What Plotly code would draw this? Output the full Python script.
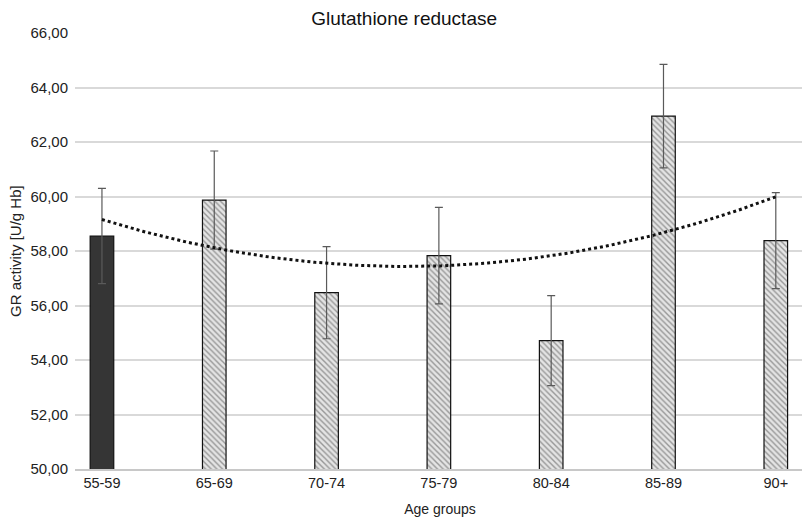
import numpy as np
import plotly.graph_objects as go

categories = ["55-59", "65-69", "70-74", "75-79", "80-84", "85-89", "90+"]
gr_activity = [58.55, 59.87, 56.47, 57.83, 54.71, 62.95, 58.38]
gr_error = [1.75, 1.80, 1.69, 1.77, 1.65, 1.90, 1.76]
y_ticks = [50, 52, 54, 56, 58, 60, 62, 64, 66]

x_pos = list(range(len(categories)))

# quadratic trendline (as in the spreadsheet), fitted to the bar values
coef = np.polyfit(x_pos, gr_activity, 2)
x_fit = np.linspace(x_pos[0], x_pos[-1], 200)
y_fit = np.polyval(coef, x_fit)

fig = go.Figure()

# reference group (solid dark bar)
fig.add_trace(go.Bar(
    x=x_pos[:1], y=gr_activity[:1],
    width=0.21,
    marker=dict(color="#353535", line=dict(color="#111111", width=1.2)),
    error_y=dict(type="data", array=gr_error[:1], color="#5a5a5a", thickness=1.2, width=4),
    showlegend=False,
))

# other groups (hatched bars)
fig.add_trace(go.Bar(
    x=x_pos[1:], y=gr_activity[1:],
    width=0.21,
    marker=dict(
        color="#ffffff",
        line=dict(color="#111111", width=1.2),
        pattern=dict(shape="\\", fgcolor="#4a4a4a", bgcolor="#e4e4e4", size=4, solidity=0.35),
    ),
    error_y=dict(type="data", array=gr_error[1:], color="#5a5a5a", thickness=1.2, width=4),
    showlegend=False,
))

fig.add_trace(go.Scatter(
    x=x_fit, y=y_fit, mode="lines",
    line=dict(color="#111111", width=3, dash="dot"),
    showlegend=False, hoverinfo="skip",
))

fig.update_layout(
    width=810, height=518,
    margin=dict(l=67, r=13, t=25, b=57),
    paper_bgcolor="white", plot_bgcolor="white",
    separators=",.",
    font=dict(family="Liberation Sans, Arial, sans-serif", color="#222222"),
    title=dict(text="Glutathione reductase", xref="container", x=0.489, xanchor="center",
               yref="container", y=0.993, yanchor="top",
               font=dict(size=19, color="#111111")),
    barmode="overlay",
    xaxis=dict(
        range=[-0.24, 6.26],
        tickvals=x_pos, ticktext=categories,
        tickfont=dict(size=14.5, color="#222222"),
        showgrid=False, zeroline=False,
        showline=True, linecolor="#c8c8c8", linewidth=1.5,
        ticks="", ticklen=0,
        title=dict(text="Age groups", font=dict(size=14, color="#222222"), standoff=14),
    ),
    yaxis=dict(
        range=[50, 66],
        tickvals=y_ticks, tickformat=".2f",
        tickfont=dict(size=15, color="#222222"),
        showgrid=True, gridcolor="#d9d9d9", gridwidth=1.5,
        zeroline=False, showline=False,
        ticks="", ticklabelstandoff=6,
    ),
    annotations=[dict(
        text="GR activity [U/g Hb]", textangle=-90,
        xref="paper", yref="paper", x=-0.0822, y=0.5,
        xanchor="center", yanchor="middle", showarrow=False,
        font=dict(size=15, color="#222222"),
    )],
)

fig.write_html("out.html")
